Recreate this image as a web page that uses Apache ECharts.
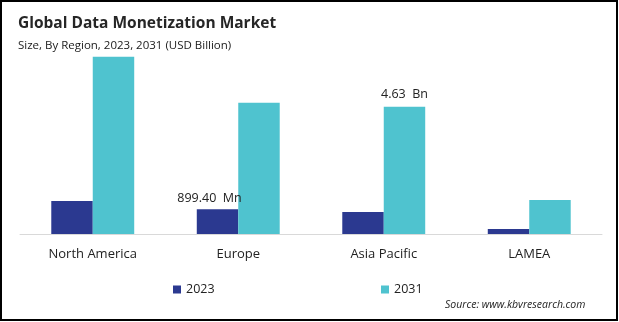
<!DOCTYPE html>
<html><head><meta charset="utf-8">
<script src="https://cdn.jsdelivr.net/npm/echarts@6/dist/echarts.min.js"></script>
<style>html,body{margin:0;padding:0;background:#fff}#c{width:619px;height:322px}</style>
</head><body><div id="c"></div>
<script>
const categories = ['North America', 'Europe', 'Asia Pacific', 'LAMEA'];
const values2023 = [1.20, 0.8994, 0.80, 0.18];
const values2031 = [6.45, 4.78, 4.63, 1.24];
const labels2023 = ['', '899.40  Mn', '', ''];
const labels2031 = ['', '', '4.63  Bn', ''];
const seriesNames = ['2023', '2031'];

const font = '"Open Sans", "Noto Sans", sans-serif';
const chart = echarts.init(document.getElementById('c'), null, {renderer: 'canvas'});
chart.setOption({
  animation: false,
  backgroundColor: '#fff',
  title: [
    {text: 'Global Data Monetization Market', left: 13, top: 11,
     textStyle: {fontFamily: font, fontSize: 15.5, fontWeight: 'bold', color: '#262626'}},
    {text: 'Size, By Region, 2023, 2031 (USD Billion)', left: 13, top: 35,
     textStyle: {fontFamily: font, fontSize: 11.5, fontWeight: 'normal', color: '#1a1a1a'}},
    {text: 'Source: www.kbvresearch.com', left: 440, top: 295,
     textStyle: {fontFamily: font, fontSize: 10.5, fontStyle: 'italic', fontWeight: 'normal', color: '#222'}}
  ],
  graphic: [{type: 'rect', shape: {x: 1, y: 1, width: 616, height: 319},
             style: {fill: 'none', stroke: '#000', lineWidth: 2}}],
  legend: [
    {data: [seriesNames[0]], left: 168, top: 278, itemWidth: 8, itemHeight: 8, icon: 'rect', itemGap: 5,
     textStyle: {fontFamily: font, fontSize: 12.5, color: '#222'}},
    {data: [seriesNames[1]], left: 376, top: 278, itemWidth: 8, itemHeight: 8, icon: 'rect', itemGap: 5,
     textStyle: {fontFamily: font, fontSize: 12.5, color: '#222'}}
  ],
  grid: {left: 20, right: 17, top: 28, bottom: 88},
  xAxis: {type: 'category', data: categories,
    axisLine: {lineStyle: {color: '#d9d9d9', width: 1}}, axisTick: {show: false},
    axisLabel: {fontFamily: font, fontSize: 13, color: '#222', margin: 14}},
  yAxis: {type: 'value', min: 0, max: 7.5, show: false, splitLine: {show: false}},
  series: [
    {name: seriesNames[0], type: 'bar', data: values2023, barGap: '0%', barCategoryGap: '43%',
     itemStyle: {color: '#2B3990'},
     label: {show: true, position: 'top', distance: 4, fontFamily: font, fontSize: 12.5, color: '#222',
       formatter: p => labels2023[p.dataIndex], offset: [-8, 0]}},
    {name: seriesNames[1], type: 'bar', data: values2031,
     itemStyle: {color: '#4FC3CF'},
     label: {show: true, position: 'top', distance: 6, fontFamily: font, fontSize: 12.5, color: '#222',
       formatter: p => labels2031[p.dataIndex]}}
  ]
});
</script></body></html>
